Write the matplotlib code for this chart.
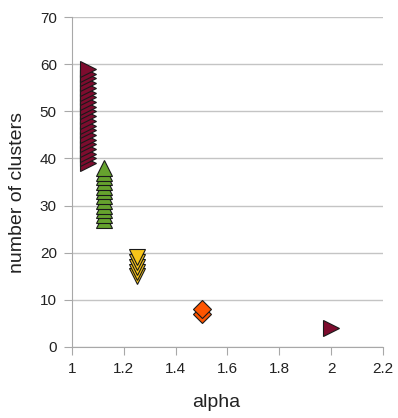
import matplotlib
matplotlib.use("Agg")
import matplotlib.pyplot as plt

plt.rcParams['font.family'] = ['Liberation Sans', 'DejaVu Sans']

# data
alpha_a = 1.06
clusters_a = list(range(39, 60))
alpha_b = 1.125
clusters_b = list(range(27, 39))
alpha_c = 1.25
clusters_c = [15, 16, 17, 18, 19]
alpha_d = 1.5
clusters_d = [7, 8]
alpha_e = 2.0
clusters_e = [4]

xticks = [1, 1.2, 1.4, 1.6, 1.8, 2, 2.2]
xticklabels = ['1', '1.2', '1.4', '1.6', '1.8', '2', '2.2']
yticks = [0, 10, 20, 30, 40, 50, 60, 70]

fig = plt.figure(figsize=(3.98, 4.18), dpi=100)
ax = fig.add_axes([0.181, 0.170, 0.781, 0.789])

edge = '#1a1a1a'
ax.plot([alpha_a] * len(clusters_a), clusters_a, linestyle='none', marker='>',
        markersize=12, markerfacecolor='#7d0c2e', markeredgecolor=edge, markeredgewidth=0.8)
ax.plot([alpha_b] * len(clusters_b), clusters_b, linestyle='none', marker='^',
        markersize=12, markerfacecolor='#66a22e', markeredgecolor=edge, markeredgewidth=0.8)
ax.plot([alpha_c] * len(clusters_c), clusters_c, linestyle='none', marker='v',
        markersize=12, markerfacecolor='#f7c51a', markeredgecolor=edge, markeredgewidth=0.8)
ax.plot([alpha_d] * len(clusters_d), clusters_d, linestyle='none', marker='D',
        markersize=9, markerfacecolor='#ff5500', markeredgecolor=edge, markeredgewidth=0.8)
ax.plot([alpha_e] * len(clusters_e), clusters_e, linestyle='none', marker='>',
        markersize=12, markerfacecolor='#7d0c2e', markeredgecolor=edge, markeredgewidth=0.8)

ax.set_xlim(1, 2.2)
ax.set_ylim(0, 70)
ax.set_xticks(xticks)
ax.set_xticklabels(xticklabels)
ax.set_yticks(yticks)
ax.yaxis.grid(True, color='#c4c4c4', linewidth=1)
ax.set_axisbelow(True)
for s in ['top', 'right']:
    ax.spines[s].set_visible(False)
for s in ['left', 'bottom']:
    ax.spines[s].set_color('#a8a8a8')
ax.tick_params(colors='#a8a8a8', labelcolor='#222222', labelsize=11, length=6, pad=5)
ax.set_xlabel('alpha', fontsize=14, color='#222222', va='baseline')
ax.xaxis.set_label_coords(0.463, -0.182)
ax.set_ylabel('number of clusters', fontsize=14, color='#222222', va='center')
ax.yaxis.set_label_coords(-0.174, 0.468)

fig.savefig('out.png', dpi=100)
